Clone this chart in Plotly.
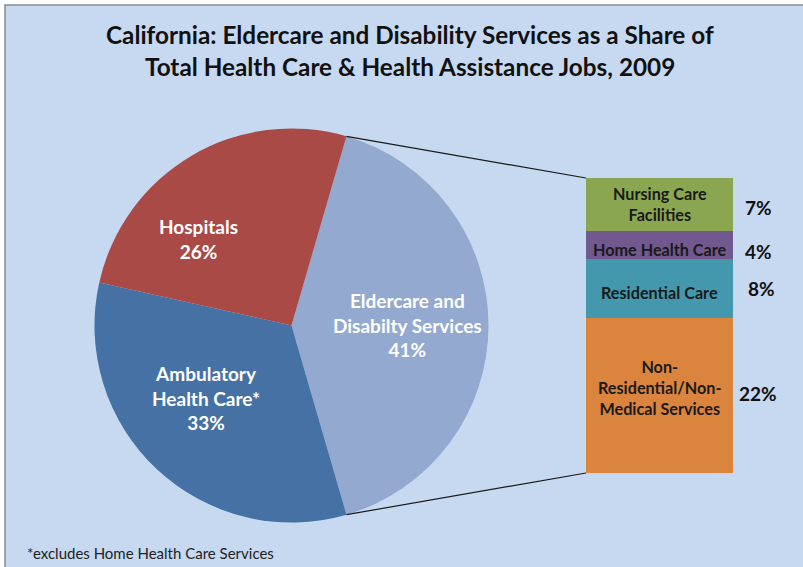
import math
import plotly.graph_objects as go

# ---- data ----
pie_labels = ["Eldercare and<br>Disabilty Services", "Ambulatory<br>Health Care*", "Hospitals"]
pie_values = [41, 33, 26]
pie_colors = ["#93A9CF", "#4571A5", "#A94A47"]

bar_labels = ["Non-<br>Residential/Non-<br>Medical Services", "Residential Care",
              "Home Health Care", "Nursing Care<br>Facilities"]
bar_values = [21.6, 8.1, 3.9, 7.4]
bar_colors = ["#DB843D", "#4398AE", "#71588F", "#8BA650"]

title_lines = ["California: Eldercare and Disability Services as a Share of",
               "Total Health Care & Health Assistance Jobs, 2009"]
footnote = "*excludes Home Health Care Services"

# ---- layout geometry (pixels) ----
W, H = 803, 567
FONT = "Lato"


def px(x):
    return x / W


def py(y):
    return 1 - y / H


pie_cx, pie_cy, pie_r = 291.5, 325.5, 197
bar_x0, bar_x1, bar_top, bar_bot = 586, 733, 178, 473

total = sum(pie_values)
first_share = pie_values[0] / total
rotation = 90 - first_share * 180

fig = go.Figure()

fig.add_trace(go.Pie(
    labels=[l.replace("<br>", " ") for l in pie_labels],
    values=pie_values,
    marker=dict(colors=pie_colors, line=dict(width=0)),
    sort=False,
    direction="clockwise",
    rotation=rotation,
    textinfo="none",
    hoverinfo="label+percent",
    showlegend=False,
    domain=dict(x=[px(pie_cx - pie_r), px(pie_cx + pie_r)],
                y=[py(pie_cy + pie_r), py(pie_cy - pie_r)]),
))

for lab, val, col in zip(bar_labels, bar_values, bar_colors):
    fig.add_trace(go.Bar(
        x=[0], y=[val], width=1,
        marker=dict(color=col, line=dict(width=0)),
        name=lab.replace("<br>", " "),
        showlegend=False,
        xaxis="x", yaxis="y",
    ))

sub_total = sum(bar_values)

annotations = []
# title
for i, t in enumerate(title_lines):
    annotations.append(dict(text=t, x=px(410), y=py(34 + 32 * i), xref="paper", yref="paper",
                            showarrow=False, xanchor="center", yanchor="middle",
                            font=dict(family=FONT, size=24.3, color="#111111", weight="bold")))

# pie labels
pie_label_pos = [(407, 325), (206, 398), (198, 239)]
for lab, val, (lx, ly) in zip(pie_labels, pie_values, pie_label_pos):
    annotations.append(dict(text=f"{lab}<br>{round(100 * val / total)}%", x=px(lx), y=py(ly),
                            xref="paper", yref="paper", showarrow=False,
                            xanchor="center", yanchor="middle", align="center",
                            font=dict(family=FONT, size=19, color="white", weight="bold")))

# bar labels (data coordinates)
cum = 0
lab_offsets = [8, -4, -4, 1]
pct_yoffsets = [2, 0, -6, -3]
pct_xoffsets = [4, 13, 10, 10]
for lab, val, loff, yoff, xoff in zip(bar_labels, bar_values, lab_offsets, pct_yoffsets, pct_xoffsets):
    mid = cum + val / 2
    annotations.append(dict(text=lab, x=0, y=mid, xref="x", yref="y", showarrow=False,
                            xanchor="center", yanchor="middle", align="center", yshift=loff,
                            font=dict(family=FONT, size=16.2, color="#1A1A1A", weight="bold")))
    annotations.append(dict(text=f"{round(val)}%", x=0.5, y=mid, xref="x", yref="y", showarrow=False,
                            xanchor="left", yanchor="middle", xshift=xoff, yshift=yoff,
                            font=dict(family=FONT, size=19, color="#111111", weight="bold")))
    cum += val

# footnote
annotations.append(dict(text=footnote, x=px(25), y=py(553), xref="paper", yref="paper",
                        showarrow=False, xanchor="left", yanchor="middle",
                        font=dict(family=FONT, size=15, color="#222222")))

# connector lines from the first slice edges to the bar corners
a_start = math.radians(rotation)
a_end = math.radians(rotation + 360 * first_share)
shapes = [
    dict(type="rect", xref="paper", yref="paper", x0=px(5), y0=-0.05, x1=1.05, y1=py(5),
         fillcolor="#C6D9F1", line=dict(color="#8C8C8C", width=1.5), layer="below"),
]
for ang, (bx, by) in [(a_start, (bar_x0, bar_top)), (a_end, (bar_x0, bar_bot))]:
    ex = pie_cx + pie_r * math.sin(ang)
    ey = pie_cy - pie_r * math.cos(ang)
    shapes.append(dict(type="line", xref="paper", yref="paper",
                       x0=px(ex), y0=py(ey), x1=px(bx), y1=py(by),
                       line=dict(color="#1A1A1A", width=1.2)))

fig.update_layout(
    width=W, height=H,
    margin=dict(l=0, r=0, t=0, b=0),
    paper_bgcolor="white",
    plot_bgcolor="rgba(0,0,0,0)",
    barmode="stack",
    bargap=0,
    xaxis=dict(domain=[px(bar_x0), px(bar_x1)], range=[-0.5, 0.5], visible=False, fixedrange=True),
    yaxis=dict(domain=[py(bar_bot), py(bar_top)], range=[0, sub_total], visible=False, fixedrange=True),
    annotations=annotations,
    shapes=shapes,
)

fig.write_html("out.html",
               config={"displayModeBar": False},
               post_script="document.body.style.margin='0';document.body.style.overflow='hidden';")
